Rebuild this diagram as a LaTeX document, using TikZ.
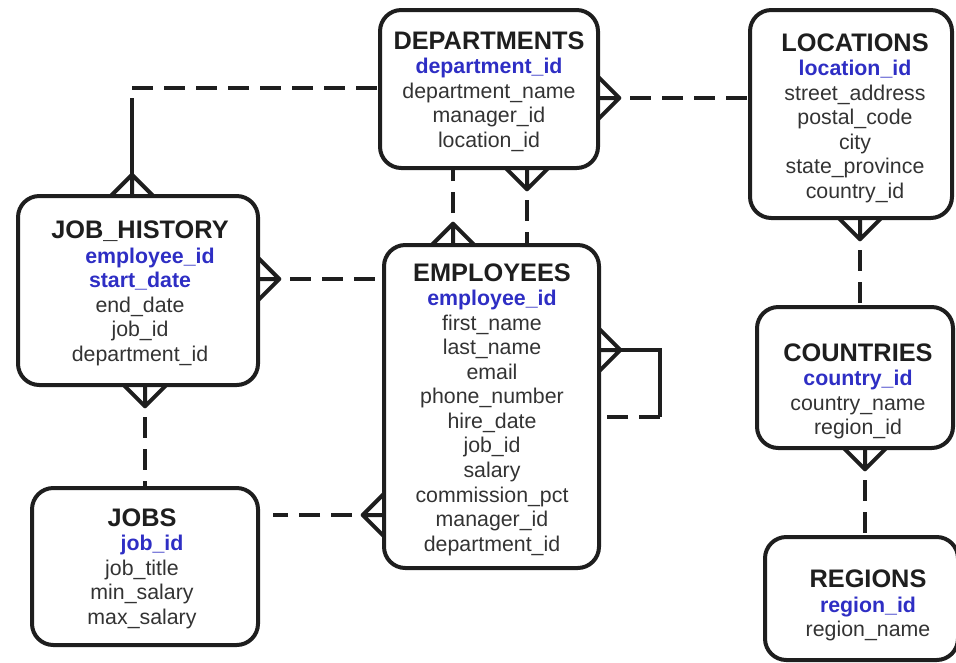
\documentclass[tikz,border=0pt]{standalone}
\usepackage{fontspec}
\setmainfont{Liberation Sans}
\usetikzlibrary{calc,fit}
\definecolor{keyblue}{HTML}{2E2EC4}
\definecolor{ink}{HTML}{1E1E1E}
\definecolor{fieldgray}{HTML}{333333}

\tikzset{
  entity/.style={draw=ink, line width=3pt, rounded corners=16pt, inner sep=0pt},
  fields/.style={align=center, inner sep=0pt, text=fieldgray, font=\fontsize{16}{18.4}\selectfont},
  rel/.style={draw=ink, line width=3pt, dash pattern=on 16pt off 8pt},
  solidrel/.style={draw=ink, line width=3pt},
  crowfoot/.pic={\draw[ink, line width=3pt, line join=round] (0,16pt) -- (16pt,0) -- (0,-16pt) (0,0) -- (16pt,0);}
}
\newcommand{\ttl}[1]{{\fontsize{19}{18.4}\selectfont\bfseries\color{ink}#1}}
\newcommand{\pk}[1]{{\bfseries\color{keyblue}#1}}

\begin{document}
\begin{tikzpicture}[x=0.75pt, y=-0.75pt]
\useasboundingbox (0,0) rectangle (956,662);

% entity boxes
\node[entity, fit={(380,10) (598,168)}] (dep) {};
\node[entity, fit={(750,10) (952,218)}] (loc) {};
\node[entity, fit={(18,196) (258,385)}] (jh) {};
\node[entity, fit={(384,245) (599,568)}] (emp) {};
\node[entity, fit={(32,488) (258,645)}] (jobs) {};
\node[entity, fit={(757,307) (953,448)}] (cty) {};
\node[entity, fit={(765,537) (958,660)}] (reg) {};

% entity contents
\node[fields] (depT) at (489,91.5) {\ttl{DEPARTMENTS}\\ \pk{department\_id}\\ department\_name\\ manager\_id\\ location\_id};
\node[fields] (locT) at (855,118) {\ttl{LOCATIONS}\\ \pk{location\_id}\\ street\_address\\ postal\_code\\ city\\ state\_province\\ country\_id};
\node[fields] (jhT) at (140,293.5) {\ttl{JOB\_HISTORY}\\ \hspace*{15pt}\pk{employee\_id}\\ \pk{start\_date}\\ end\_date\\ job\_id\\ department\_id};
\node[fields] (empT) at (492,409.5) {\ttl{EMPLOYEES}\\ \pk{employee\_id}\\ first\_name\\ last\_name\\ email\\ phone\_number\\ hire\_date\\ job\_id\\ salary\\ commission\_pct\\ manager\_id\\ department\_id};
\node[fields] (jobsT) at (142,568.5) {\ttl{JOBS}\\ \hspace*{15pt}\pk{job\_id}\\ job\_title\\ min\_salary\\ max\_salary};
\node[fields] (ctyT) at (858,391.5) {\ttl{COUNTRIES}\\ \pk{country\_id}\\ country\_name\\ region\_id};
\node[fields] (regT) at (868,605.5) {\ttl{REGIONS}\\ \pk{region\_id}\\ region\_name};

% attachment points on the box edges
\coordinate (bend) at (132,88);
\coordinate (jhTop) at (132,196);
\coordinate (jhRight) at (258,279);
\coordinate (empTopL) at (453,245);
\coordinate (depBotR) at (527,168);
\coordinate (depRight) at (598,98);
\coordinate (empRight) at (599,350);
\coordinate (loopA) at (660,350);
\coordinate (loopB) at (660,417);
\coordinate (locBot) at (860,218);
\coordinate (ctyBot) at (865,448);
\coordinate (jhBot) at (145,385);
\coordinate (empLeft) at (384,515);

% DEPARTMENTS -- JOB_HISTORY
\draw[rel] (bend) -- (bend -| dep.west);
\draw[solidrel] ($(bend)+(0,10)$) -- (jhTop);
\pic[rotate=90] at (jhTop) {crowfoot};

% JOB_HISTORY -- EMPLOYEES
\pic at (jhRight) {crowfoot};
\draw[rel] (jhRight) -- (jhRight -| emp.west);

% DEPARTMENTS -- EMPLOYEES (department of employee)
\pic[rotate=90] at (empTopL) {crowfoot};
\draw[rel] (empTopL) -- (empTopL |- dep.south);

% DEPARTMENTS -- EMPLOYEES (manager of department)
\pic[rotate=270] at (depBotR) {crowfoot};
\draw[rel] (depBotR) -- (depBotR |- emp.north);

% DEPARTMENTS -- LOCATIONS
\pic at (depRight) {crowfoot};
\draw[rel] (depRight) -- (depRight -| loc.west);

% EMPLOYEES -- EMPLOYEES (manager)
\pic at (empRight) {crowfoot};
\draw[solidrel, line join=miter] (empRight) -- (loopA) -- (loopB);
\draw[rel] (loopB) -- (loopB -| emp.east);

% LOCATIONS -- COUNTRIES
\pic[rotate=270] at (locBot) {crowfoot};
\draw[rel] (locBot) -- (locBot |- cty.north);

% COUNTRIES -- REGIONS
\pic[rotate=270] at (ctyBot) {crowfoot};
\draw[rel] (ctyBot) -- (ctyBot |- reg.north);

% JOB_HISTORY -- JOBS
\pic[rotate=270] at (jhBot) {crowfoot};
\draw[rel] (jhBot) -- (jhBot |- jobs.north);

% JOBS -- EMPLOYEES
\pic[rotate=180] at (empLeft) {crowfoot};
\draw[rel, shorten >=10pt] (empLeft) -- (empLeft -| jobs.east);
\end{tikzpicture}
\end{document}
